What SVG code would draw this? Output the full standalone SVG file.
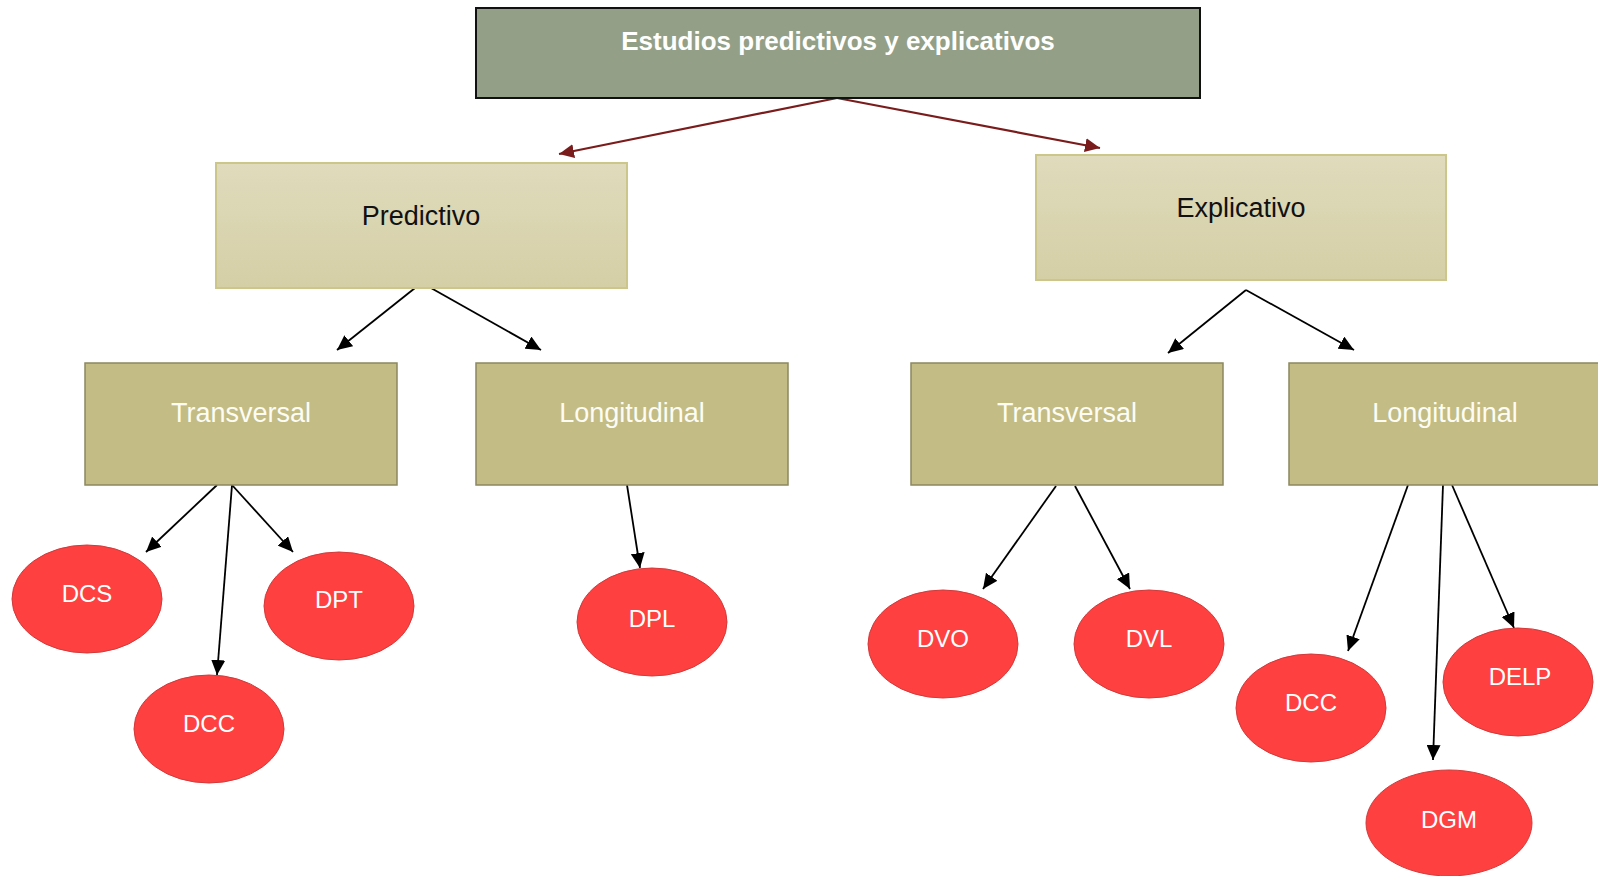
<svg xmlns="http://www.w3.org/2000/svg" width="1598" height="876" viewBox="0 0 1598 876">
<style>
.t{font-family:"Liberation Sans",Arial,sans-serif;text-anchor:middle}
.title{font-size:26px;font-weight:bold;fill:#ffffff}
.l2{font-size:27px;fill:#111111}
.l3{font-size:27px;fill:#fdfcf4}
.c{font-size:24px;fill:#ffffff}
.b2{fill:url(#g2);stroke:#cdc68a;stroke-width:2}
.b3{fill:#c3bc84;stroke:#8c8860;stroke-width:1.5}
.el{fill:#ff4040;stroke:#d23a3a;stroke-width:1}
.k{stroke:#000;stroke-width:1.8;fill:none;marker-end:url(#ak)}
.r{stroke:#7a1c1c;stroke-width:2.2;fill:none;marker-end:url(#ar)}
</style>
<defs>
<linearGradient id="g2" x1="0" y1="0" x2="0" y2="1">
<stop offset="0" stop-color="#dfdbbc"/>
<stop offset="1" stop-color="#d5cfa6"/>
</linearGradient>
<marker id="ak" markerUnits="userSpaceOnUse" markerWidth="16" markerHeight="14" refX="15" refY="7" orient="auto">
<path d="M0,0 L15,7 L0,14 Z" fill="#000"/>
</marker>
<marker id="ar" markerUnits="userSpaceOnUse" markerWidth="16" markerHeight="14" refX="15" refY="7" orient="auto">
<path d="M0,0 L15,7 L0,14 Z" fill="#7a1c1c"/>
</marker>
</defs>
<rect width="1598" height="876" fill="#ffffff"/>
<g id="connectors">
<line class="r" x1="837" y1="98" x2="559" y2="154"/>
<line class="r" x1="837" y1="98" x2="1100" y2="148"/>
<line class="k" x1="415" y1="288" x2="337" y2="350"/>
<line class="k" x1="431" y1="288" x2="541" y2="350"/>
<line class="k" x1="1246" y1="290" x2="1168" y2="353"/>
<line class="k" x1="1246" y1="290" x2="1354" y2="350"/>
<line class="k" x1="217" y1="485" x2="146" y2="552"/>
<line class="k" x1="232" y1="485" x2="217" y2="675"/>
<line class="k" x1="232" y1="485" x2="293" y2="552"/>
<line class="k" x1="627" y1="485" x2="640" y2="568"/>
<line class="k" x1="1056" y1="486" x2="983" y2="589"/>
<line class="k" x1="1075" y1="486" x2="1130" y2="589"/>
<line class="k" x1="1408" y1="485" x2="1348" y2="651"/>
<line class="k" x1="1443" y1="485" x2="1433" y2="760"/>
<line class="k" x1="1452" y1="485" x2="1514" y2="628"/>
</g>
<g id="root">
<rect x="476" y="8" width="724" height="90" fill="#939f86" stroke="#111" stroke-width="2"/>
<text class="t title" x="838" y="50">Estudios predictivos y explicativos</text>
</g>
<g id="predictivo">
<rect class="b2" x="216" y="163" width="411" height="125"/>
<text class="t l2" x="421" y="225">Predictivo</text>
</g>
<g id="explicativo">
<rect class="b2" x="1036" y="155" width="410" height="125"/>
<text class="t l2" x="1241" y="217">Explicativo</text>
</g>
<g id="p-transversal">
<rect class="b3" x="85" y="363" width="312" height="122"/>
<text class="t l3" x="241" y="422">Transversal</text>
</g>
<g id="p-longitudinal">
<rect class="b3" x="476" y="363" width="312" height="122"/>
<text class="t l3" x="632" y="422">Longitudinal</text>
</g>
<g id="e-transversal">
<rect class="b3" x="911" y="363" width="312" height="122"/>
<text class="t l3" x="1067" y="422">Transversal</text>
</g>
<g id="e-longitudinal">
<rect class="b3" x="1289" y="363" width="312" height="122"/>
<text class="t l3" x="1445" y="422">Longitudinal</text>
</g>
<g id="dcs">
<ellipse class="el" cx="87" cy="599" rx="75" ry="54"/>
<text class="t c" x="87" y="602">DCS</text>
</g>
<g id="dpt">
<ellipse class="el" cx="339" cy="606" rx="75" ry="54"/>
<text class="t c" x="339" y="608">DPT</text>
</g>
<g id="dcc-p">
<ellipse class="el" cx="209" cy="729" rx="75" ry="54"/>
<text class="t c" x="209" y="732">DCC</text>
</g>
<g id="dpl">
<ellipse class="el" cx="652" cy="622" rx="75" ry="54"/>
<text class="t c" x="652" y="627">DPL</text>
</g>
<g id="dvo">
<ellipse class="el" cx="943" cy="644" rx="75" ry="54"/>
<text class="t c" x="943" y="647">DVO</text>
</g>
<g id="dvl">
<ellipse class="el" cx="1149" cy="644" rx="75" ry="54"/>
<text class="t c" x="1149" y="647">DVL</text>
</g>
<g id="dcc-e">
<ellipse class="el" cx="1311" cy="708" rx="75" ry="54"/>
<text class="t c" x="1311" y="711">DCC</text>
</g>
<g id="delp">
<ellipse class="el" cx="1518" cy="682" rx="75" ry="54"/>
<text class="t c" x="1520" y="685">DELP</text>
</g>
<g id="dgm">
<ellipse class="el" cx="1449" cy="823" rx="83" ry="53"/>
<text class="t c" x="1449" y="828">DGM</text>
</g>
</svg>
